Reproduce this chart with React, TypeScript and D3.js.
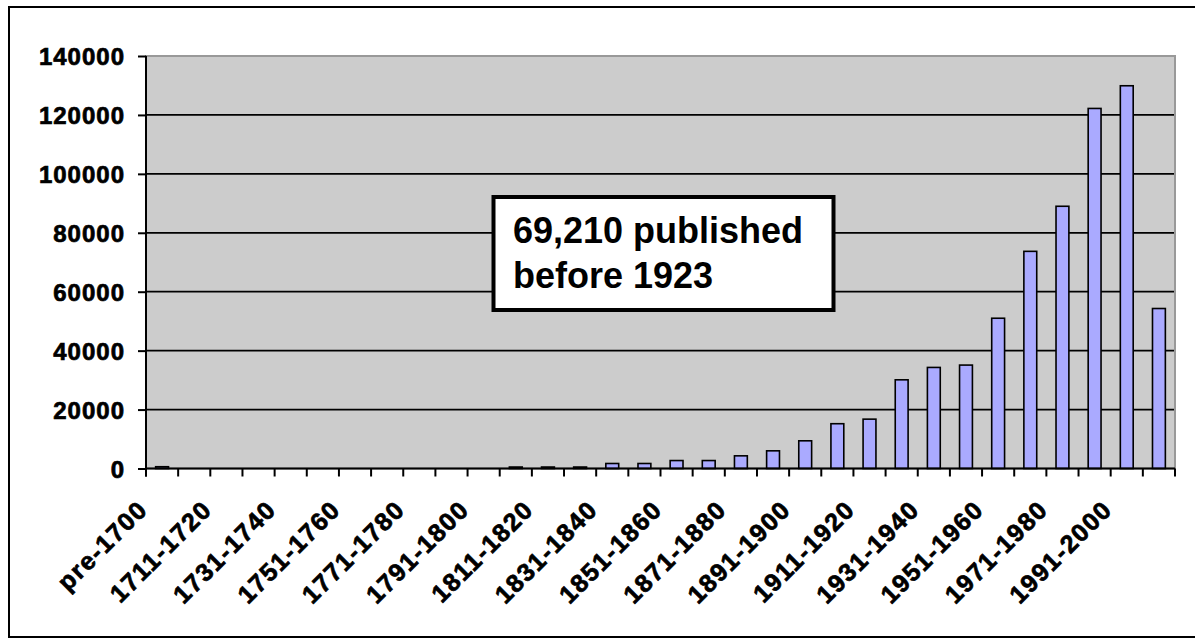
import { useEffect, useRef } from "react";
import * as d3 from "d3";

const categories = [
  "pre-1700", "1701-1710", "1711-1720", "1721-1730", "1731-1740", "1741-1750",
  "1751-1760", "1761-1770", "1771-1780", "1781-1790", "1791-1800", "1801-1810",
  "1811-1820", "1821-1830", "1831-1840", "1841-1850", "1851-1860", "1861-1870",
  "1871-1880", "1881-1890", "1891-1900", "1901-1910", "1911-1920", "1921-1930",
  "1931-1940", "1941-1950", "1951-1960", "1961-1970", "1971-1980", "1981-1990",
  "1991-2000", "2001-2010",
];

const counts = [
  600, 0, 0, 0, 0, 0, 0, 0, 0, 0, 0, 500,
  500, 500, 1700, 1700, 2700, 2700, 4300, 6000, 9400, 15200,
  16750, 30100, 34300, 35100, 51000, 73700, 89000, 122200, 129900, 54300,
];

// only every other category gets a label
const shownLabels = [
  "pre-1700", "1711-1720", "1731-1740", "1751-1760", "1771-1780", "1791-1800",
  "1811-1820", "1831-1840", "1851-1860", "1871-1880", "1891-1900", "1911-1920",
  "1931-1940", "1951-1960", "1971-1980", "1991-2000",
];

const yTicks = [0, 20000, 40000, 60000, 80000, 100000, 120000, 140000];

const noteLines = ["69,210 published", "before 1923"];

const FONT = "'Liberation Sans', Arial, sans-serif";

const App = () => {
  const svgRef = useRef<SVGSVGElement | null>(null);

  useEffect(() => {
    const width = 1195;
    const height = 639;
    const plot = { left: 146, right: 1175, top: 56, bottom: 468.5 };

    const svg = d3.select(svgRef.current);
    svg.selectAll("*").remove();
    svg.attr("width", width).attr("height", height);

    // outer frame
    svg.append("rect")
      .attr("x", 9)
      .attr("y", 7)
      .attr("width", 1200)
      .attr("height", 630)
      .attr("fill", "white")
      .attr("stroke", "black")
      .attr("stroke-width", 2);

    const x = d3.scaleBand<string>()
      .domain(categories)
      .range([plot.left, plot.right])
      .paddingInner(0.6)
      .paddingOuter(0.3);

    const y = d3.scaleLinear()
      .domain([0, 140000])
      .range([plot.bottom, plot.top]);

    // plot area
    svg.append("rect")
      .attr("x", plot.left)
      .attr("y", plot.top)
      .attr("width", plot.right - plot.left)
      .attr("height", plot.bottom - plot.top)
      .attr("fill", "#cccccc")
      .attr("stroke", "#999999")
      .attr("stroke-width", 2);

    // gridlines
    svg.append("g")
      .selectAll("line")
      .data(yTicks.filter((t) => t > 0 && t < 140000))
      .enter()
      .append("line")
      .attr("x1", plot.left)
      .attr("x2", plot.right - 1)
      .attr("y1", (d) => y(d))
      .attr("y2", (d) => y(d))
      .attr("stroke", "black")
      .attr("stroke-width", 1.7);

    // bars
    svg.append("g")
      .selectAll("rect")
      .data(counts)
      .enter()
      .append("rect")
      .attr("x", (_d, i) => x(categories[i]) as number)
      .attr("width", x.bandwidth())
      .attr("y", (d) => y(d))
      .attr("height", (d) => plot.bottom - y(d))
      .attr("fill", "#aaaaff")
      .attr("stroke", "black")
      .attr("stroke-width", (d) => (d > 0 ? 1.6 : 0));

    // y axis
    const yAxis = svg.append("g")
      .attr("transform", `translate(${plot.left},0)`)
      .call(d3.axisLeft(y).tickValues(yTicks).tickSize(8).tickPadding(13).tickFormat(d3.format("d")));
    yAxis.select(".domain").attr("stroke", "black").attr("stroke-width", 2).attr("d", `M0,${plot.top}V${plot.bottom + 8}`);
    yAxis.selectAll(".tick line").attr("stroke", "black").attr("stroke-width", 2);
    yAxis.selectAll("text")
      .attr("fill", "black")
      .attr("stroke", "black")
      .attr("stroke-width", 0.7)
      .attr("dy", "0.36em")
      .style("font-family", FONT)
      .style("font-weight", "bold")
      .style("font-size", "24px")
      .style("letter-spacing", "1px");

    // x axis line and ticks at category boundaries
    const step = x.step();
    const bounds = d3.range(categories.length + 1).map((i) => plot.left + i * step);
    svg.append("line")
      .attr("x1", plot.left)
      .attr("x2", plot.right)
      .attr("y1", plot.bottom)
      .attr("y2", plot.bottom)
      .attr("stroke", "black")
      .attr("stroke-width", 2);
    svg.append("g")
      .selectAll("line")
      .data(bounds)
      .enter()
      .append("line")
      .attr("x1", (d) => d)
      .attr("x2", (d) => d)
      .attr("y1", plot.bottom)
      .attr("y2", plot.bottom + 8)
      .attr("stroke", "black")
      .attr("stroke-width", 2);

    // rotated category labels
    svg.append("g")
      .selectAll("text")
      .data(shownLabels)
      .enter()
      .append("text")
      .attr("transform", (d) => {
        const cx = (x(d) as number) + x.bandwidth() / 2;
        return `translate(${cx - 13},511) rotate(-45)`;
      })
      .attr("text-anchor", "end")
      .attr("stroke", "black")
      .attr("stroke-width", 0.7)
      .style("font-family", FONT)
      .style("font-weight", "bold")
      .style("font-size", "25px")
      .style("letter-spacing", "1.5px")
      .text((d) => d);

    // annotation box
    const note = svg.append("g");
    note.append("rect")
      .attr("x", 493.5)
      .attr("y", 197)
      .attr("width", 340)
      .attr("height", 113)
      .attr("fill", "white")
      .attr("stroke", "black")
      .attr("stroke-width", 4);
    note.selectAll("text")
      .data(noteLines)
      .enter()
      .append("text")
      .attr("x", 513)
      .attr("y", (_d, i) => 243 + i * 45)
      .style("font-family", FONT)
      .style("font-weight", "bold")
      .style("font-size", "36px")
      .text((d) => d);
  }, []);

  return (
    <svg
      ref={svgRef}
      style={{ position: "absolute", left: 0, top: 0, display: "block" }}
    ></svg>
  );
};

export default App;
